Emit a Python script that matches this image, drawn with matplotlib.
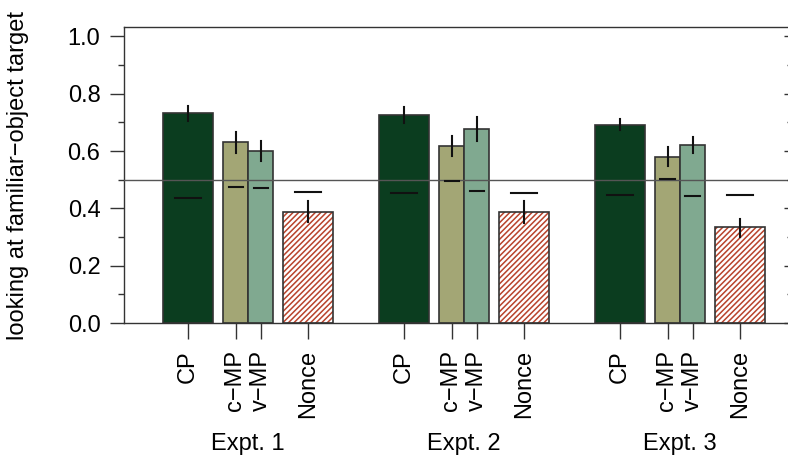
import matplotlib.pyplot as plt
from matplotlib.transforms import blended_transform_factory
from matplotlib.ticker import MultipleLocator

plt.rcParams['font.family'] = ['Liberation Sans', 'DejaVu Sans']

experiments = ["Expt. 1", "Expt. 2", "Expt. 3"]
conditions = ["CP", "c−MP", "v−MP", "Nonce"]

# proportion of looking at the familiar-object target
means = [
    [0.732, 0.631, 0.601, 0.389],
    [0.725, 0.618, 0.677, 0.387],
    [0.692, 0.581, 0.622, 0.334],
]
err_lo = [
    [0.705, 0.594, 0.565, 0.351],
    [0.697, 0.583, 0.635, 0.350],
    [0.674, 0.548, 0.594, 0.301],
]
err_hi = [
    [0.758, 0.668, 0.636, 0.425],
    [0.753, 0.654, 0.720, 0.427],
    [0.711, 0.615, 0.648, 0.364],
]
# baseline (pre-naming) looking
baseline = [
    [0.436, 0.474, 0.470, 0.457],
    [0.454, 0.495, 0.462, 0.454],
    [0.446, 0.503, 0.443, 0.446],
]

colors = ["#0b3d1f", "#a3a675", "#80a990", "white"]
widths = [2.0, 1.0, 1.0, 2.0]
offsets = [1.0, 2.9, 3.9, 5.8]     # bar centres inside a group
group_start = [1.56, 10.2, 18.84]
base_w = [1.04, 0.56, 0.56, 1.04]
hatch_col = "#b8432c"

plt.rcParams['hatch.linewidth'] = 1.1

fig = plt.figure(figsize=(7.88, 4.66), dpi=100)
ax = fig.add_axes([124 / 788, 143 / 466, 666 / 788, 296 / 466])

ticks, labels = [], []
for g, x0 in enumerate(group_start):
    for c in range(4):
        xc = x0 + offsets[c]
        if conditions[c] == "Nonce":
            # hatch drawn in red, outline drawn separately
            ax.bar(xc, means[g][c], width=widths[c], color="white",
                   edgecolor=hatch_col, linewidth=0, hatch="//////", zorder=2)
            ax.bar(xc, means[g][c], width=widths[c], fill=False,
                   edgecolor="#333333", linewidth=1.2, zorder=2)
        else:
            ax.bar(xc, means[g][c], width=widths[c], color=colors[c],
                   edgecolor="#333333", linewidth=1.2, zorder=2)
        ax.plot([xc, xc], [err_lo[g][c], err_hi[g][c]], color="#111111",
                lw=1.5, zorder=4)
        ax.plot([xc - base_w[c] / 2, xc + base_w[c] / 2],
                [baseline[g][c], baseline[g][c]], color="#111111", lw=1.5, zorder=4)
        ticks.append(xc)
        labels.append(conditions[c])

ax.axhline(0.5, color="#555555", lw=1.0, zorder=3)

ax.set_xlim(0, 26.64)
ax.set_ylim(0, 1.033)
ax.set_xticks(ticks)
ax.set_xticklabels(labels, rotation=90, fontsize=17, va="top")
ax.tick_params(axis="x", direction="out", length=11.5, width=1, pad=8, color="#333333")

ax.yaxis.set_minor_locator(MultipleLocator(0.1))
ax.set_yticks([0, 0.2, 0.4, 0.6, 0.8, 1.0])
ax.set_yticklabels(["0.0", "0.2", "0.4", "0.6", "0.8", "1.0"], fontsize=17)
ax.tick_params(axis="y", which="major", direction="out", length=10, width=1,
               pad=7, color="#333333")
ax.tick_params(axis="y", which="minor", direction="out", length=4.5, width=1,
               color="#333333")

ax.set_ylabel("looking at familiar−object target", fontsize=17)
ax.yaxis.set_label_coords(-0.143, 0.5)

for side in ["left", "top", "bottom"]:
    ax.spines[side].set_color("#333333")
    ax.spines[side].set_linewidth(1.0)
ax.spines["right"].set_visible(False)

# right-hand ticks, mostly cut by the figure edge
ax2 = ax.twinx()
ax2.set_ylim(ax.get_ylim())
ax2.set_yticks([0, 0.2, 0.4, 0.6, 0.8, 1.0])
ax2.yaxis.set_minor_locator(MultipleLocator(0.1))
ax2.set_yticklabels([])
ax2.tick_params(axis="y", which="major", direction="in", length=4, width=1, color="#333333")
ax2.tick_params(axis="y", which="minor", direction="in", length=2, width=1, color="#333333")
for side in ax2.spines:
    ax2.spines[side].set_visible(False)

trans = blended_transform_factory(ax.transData, fig.transFigure)
for g, x0 in enumerate(group_start):
    ax.text(x0 + 3.4, 0.047, experiments[g], transform=trans, ha="center",
            va="center", fontsize=17)

fig.savefig("out.png", dpi=100)
